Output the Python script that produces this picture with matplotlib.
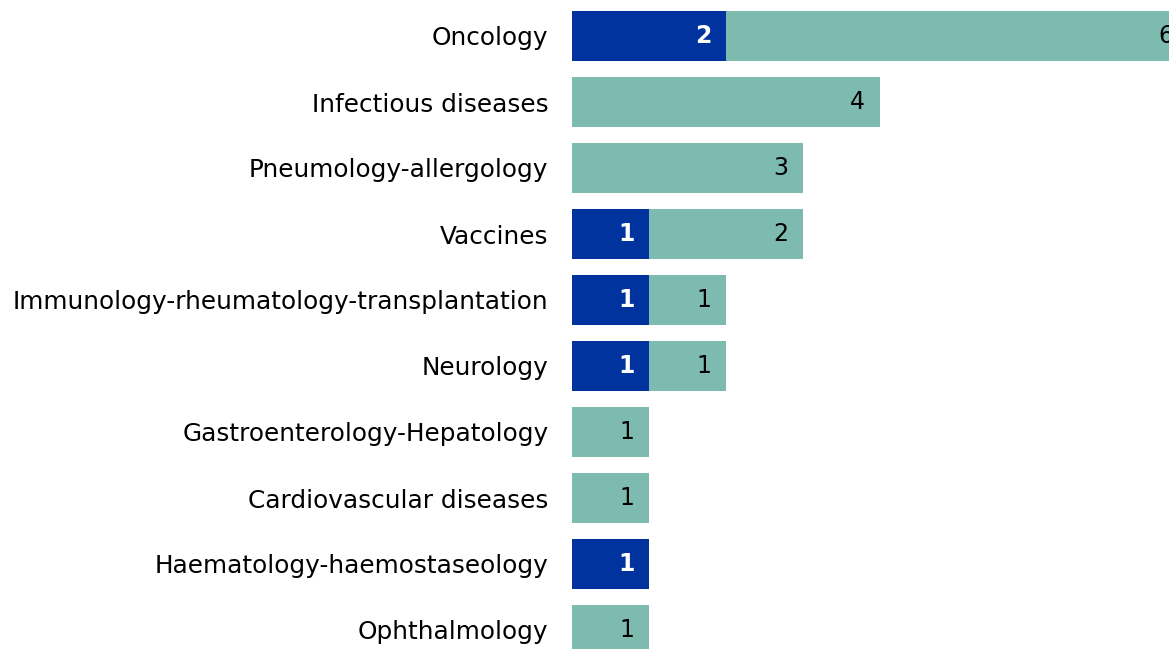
import matplotlib
matplotlib.use("Agg")
import matplotlib.pyplot as plt

categories = [
    "Oncology",
    "Infectious diseases",
    "Pneumology-allergology",
    "Vaccines",
    "Immunology-rheumatology-transplantation",
    "Neurology",
    "Gastroenterology-Hepatology",
    "Cardiovascular diseases",
    "Haematology-haemostaseology",
    "Ophthalmology",
]
dark_values = [2, 0, 0, 1, 1, 1, 0, 0, 1, 0]
teal_values = [6, 4, 3, 2, 1, 1, 1, 1, 0, 1]

dark_color = "#00339e"
teal_color = "#7dbbb1"

fig = plt.figure(figsize=(11.69, 6.49), dpi=100)
ax = fig.add_axes([572 / 1169, 0, 1 - 572 / 1169, 1])

y = list(range(len(categories)))
bar_h = 0.77

ax.barh(y, dark_values, height=bar_h, color=dark_color, edgecolor="none")
ax.barh(y, teal_values, left=dark_values, height=bar_h, color=teal_color, edgecolor="none")

pad = 0.19
for i in y:
    d = dark_values[i]
    t = teal_values[i]
    if d > 0:
        ax.text(d - pad, i, str(d), ha="right", va="center", color="white",
                fontsize=17, fontweight="bold")
    if t > 0:
        ax.text(d + t - pad, i, str(t), ha="right", va="center", color="black",
                fontsize=17)

ax.set_xlim(0, (1169 - 572) / 77)
ax.set_ylim(613 / 66, -36 / 66)
ax.set_yticks(y)
ax.set_yticklabels(categories, fontsize=17.8)
ax.tick_params(axis="y", length=0, pad=17)
ax.set_xticks([])
for s in ax.spines.values():
    s.set_visible(False)

fig.savefig("out.png", dpi=100)
